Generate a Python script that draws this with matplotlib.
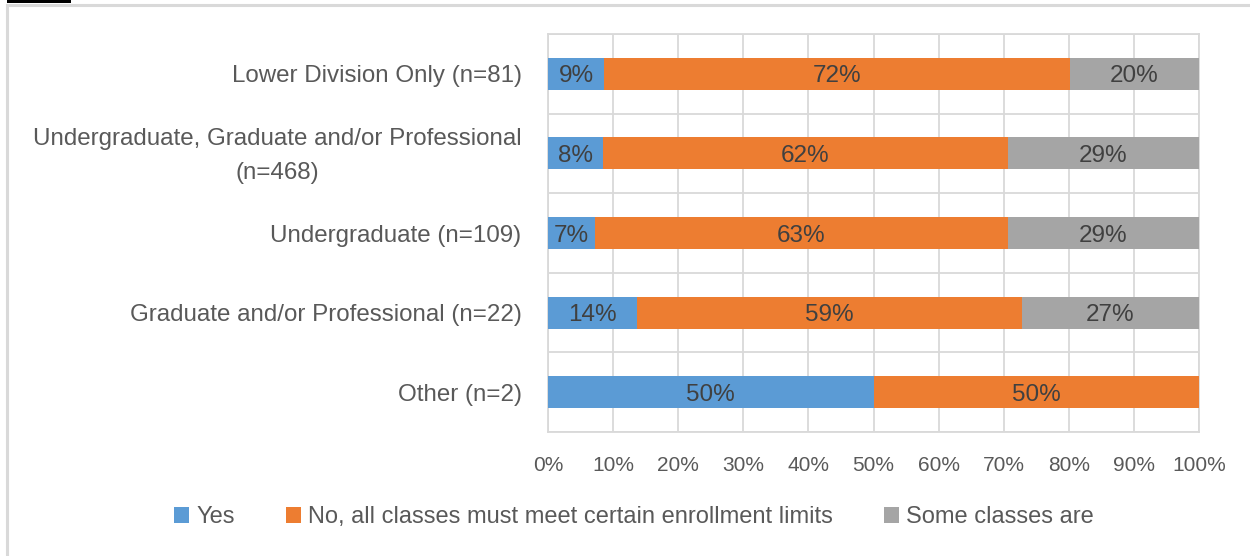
import matplotlib
matplotlib.use("Agg")
import matplotlib.pyplot as plt
from matplotlib.patches import Rectangle
from matplotlib.transforms import ScaledTranslation
import numpy as np

categories = [
    "Lower Division Only (n=81)",
    "Undergraduate, Graduate and/or Professional\n(n=468)",
    "Undergraduate (n=109)",
    "Graduate and/or Professional (n=22)",
    "Other (n=2)",
]
yes_vals = [8.6, 8.4, 7.2, 13.7, 50.0]
no_vals = [71.6, 62.2, 63.4, 59.1, 50.0]
some_vals = [19.8, 29.4, 29.4, 27.2, 0.0]
yes_labels = ["9%", "8%", "7%", "14%", "50%"]
no_labels = ["72%", "62%", "63%", "59%", "50%"]
some_labels = ["20%", "29%", "29%", "27%", ""]
series_names = ["Yes", "No, all classes must meet certain enrollment limits", "Some classes are"]
colors = ["#5B9BD5", "#ED7D31", "#A5A5A5"]
xticks = list(range(0, 101, 10))
xticklabels = [f"{t}%" for t in xticks]

plt.rcParams['font.family'] = ['Liberation Sans', 'DejaVu Sans']

W, H = 1250, 556
fig = plt.figure(figsize=(W / 100, H / 100), dpi=100)
ax = fig.add_axes([548 / W, 1 - 432 / H, (1199 - 548) / W, (432 - 34) / H])

y = np.arange(len(categories))
left = np.zeros(len(categories))
grid_c = "#D9D9D9"
for vals, labs, col, name in zip([yes_vals, no_vals, some_vals],
                                 [yes_labels, no_labels, some_labels], colors, series_names):
    bars = ax.barh(y, vals, left=left, height=0.4, color=col, label=name, zorder=3)
    for b, v, lab in zip(bars, vals, labs):
        if v > 0 and lab:
            ax.text(b.get_x() + b.get_width() / 2, b.get_y() + b.get_height() / 2, lab,
                    ha="center", va="center_baseline", fontsize=17.5, color="#404040", zorder=4)
    left = left + np.array(vals)

ax.set_xlim(0, 100)
ax.set_ylim(len(categories) - 0.5, -0.5)
ax.set_xticks(xticks)
ax.set_xticklabels(xticklabels)
ax.set_yticks(y)
ax.set_yticklabels(categories, multialignment="center", linespacing=1.7)
ax.set_yticks(np.arange(-0.5, len(categories), 1.0), minor=True)
ax.tick_params(axis="both", which="both", length=0)
ax.tick_params(axis="x", pad=17, labelsize=15, labelcolor="#595959")
ax.tick_params(axis="y", pad=19, labelsize=17.4, labelcolor="#595959")
ax.grid(axis="x", which="major", color=grid_c, linewidth=1.3, zorder=0)
ax.grid(axis="y", which="minor", color=grid_c, linewidth=1.3, zorder=0)
for s in ax.spines.values():
    s.set_color(grid_c)
    s.set_linewidth(1.3)

# nudge the two-line label up slightly
for lbl in ax.get_yticklabels():
    if "\n" in lbl.get_text():
        lbl.set_transform(lbl.get_transform() + ScaledTranslation(0, 6 / 100, fig.dpi_scale_trans))

# figure frame
fig.patches.append(Rectangle((7 / W, -0.05), 1.1, 1 - 5 / H + 0.05, transform=fig.transFigure,
                             fill=False, edgecolor=grid_c, linewidth=2.2))
fig.patches.append(Rectangle((7 / W, 1 - 3 / H), 64 / W, 3 / H, transform=fig.transFigure,
                             facecolor="black", edgecolor="none"))

leg = fig.legend(loc="center", bbox_to_anchor=(634 / W, 1 - 517 / H), ncol=3, frameon=False,
                 handlelength=0.64, handleheight=0.64, handletextpad=0.3, columnspacing=2.15,
                 fontsize=17, labelcolor="#595959")

fig.savefig("out.png", dpi=100)
